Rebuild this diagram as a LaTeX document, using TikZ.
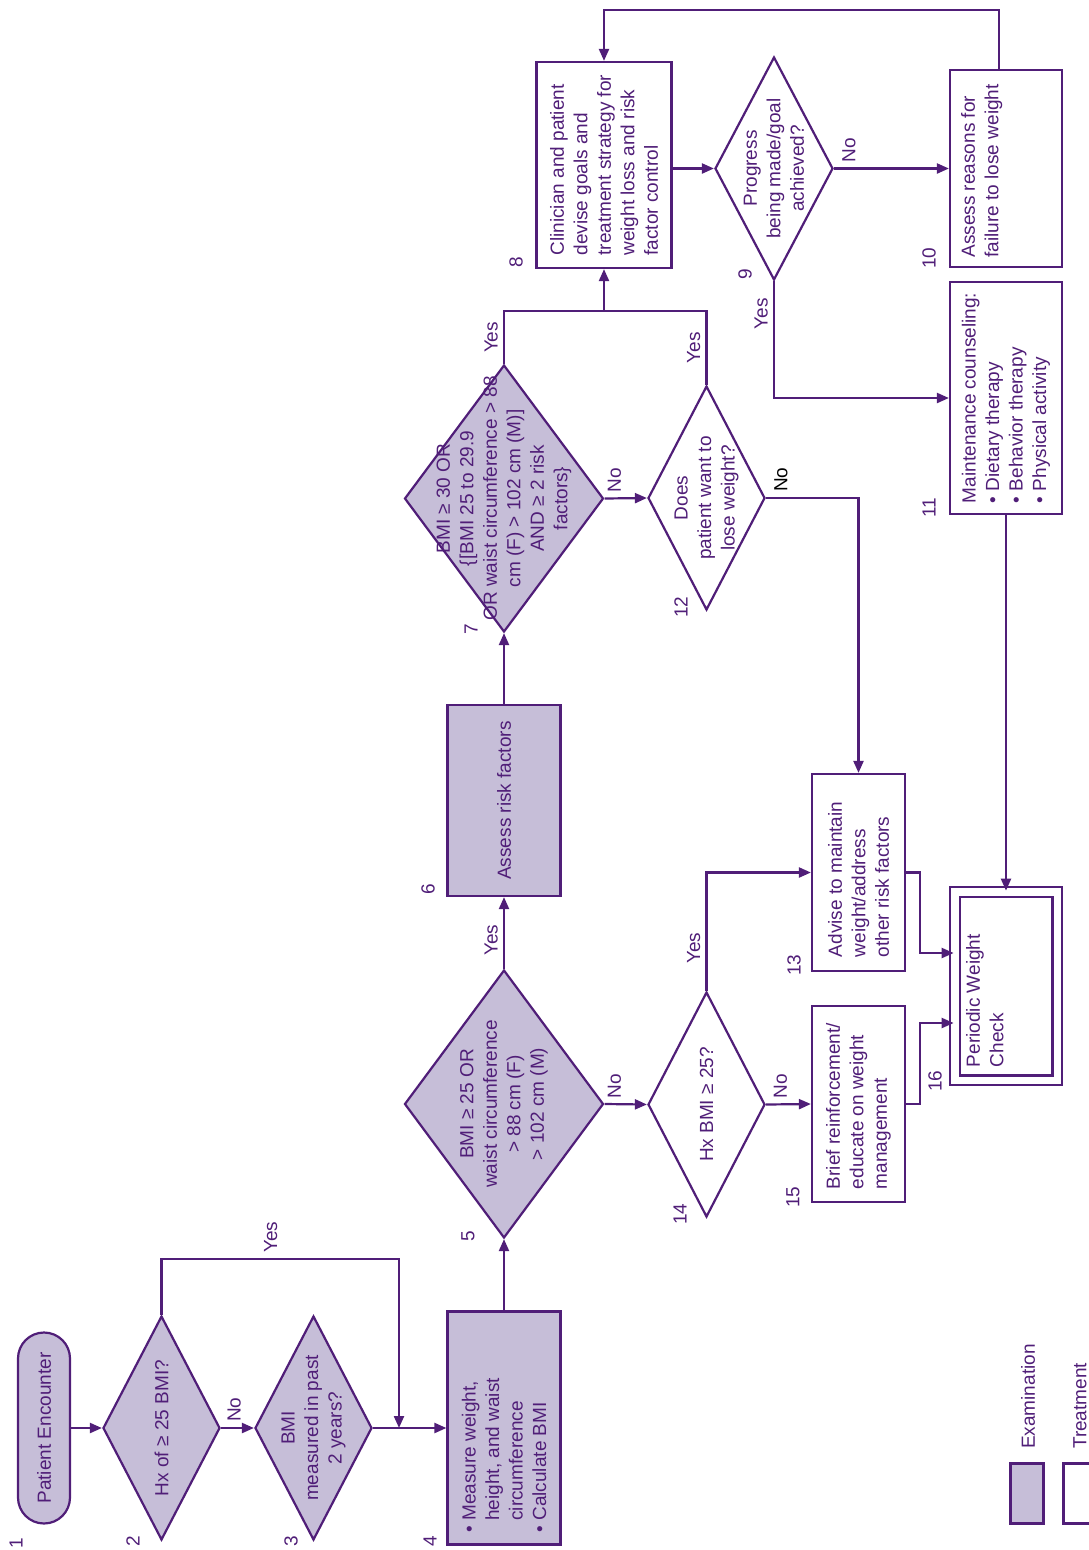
\documentclass[tikz,border=0pt]{standalone}
\usepackage{fontspec}
\setmainfont{Liberation Sans}
\usepackage{graphicx}
\usepackage{tikz}
\usetikzlibrary{shapes.geometric}
\usetikzlibrary{arrows.meta}
\definecolor{ink}{RGB}{80,30,120}
\definecolor{lav}{RGB}{198,190,216}

\begin{document}
\begin{tikzpicture}[
  x=1pt, y=-1pt,
  every node/.style={font=\fontsize{19}{23.5}\selectfont, text=ink},
  box/.style={rectangle, draw=ink, line width=2.2pt, inner sep=0pt, fill=white},
  exam/.style={box, fill=lav},
  dia/.style={diamond, draw=ink, line width=2.2pt, inner sep=0pt, fill=white},
  dtext/.style={rotate=90, align=center, inner sep=0pt},
  lab/.style={rotate=90, inner sep=5pt},
  num/.style={rotate=90, inner sep=0pt},
  arr/.style={draw=ink, line width=2.2pt, -{Triangle[length=12pt,width=10pt]}},
  line/.style={draw=ink, line width=2.2pt} % no tip
]
\useasboundingbox (0,0) rectangle (1088,1550);

% examination steps
\node[exam, rounded corners=26pt, minimum width=52pt, minimum height=191pt] (pe) at (44,1428) {\rotatebox{90}{Patient Encounter}};
\node[dia, fill=lav, minimum width=117pt, minimum height=224pt,
  label={[dtext]center:Hx of ≥ 25 BMI?}] (d2) at (161.5,1428) {};
\node[dia, fill=lav, minimum width=117pt, minimum height=224pt,
  label={[dtext]center:{BMI\\measured in past\\2 years?}}] (d3) at (313.5,1428) {};
\node[exam, minimum width=113pt, minimum height=233pt] (b4) at (504,1428) {\rotatebox{90}{\parbox{209pt}{\raggedright
  \textbullet\ Measure weight,\\\hphantom{\textbullet\ }height, and waist\\\hphantom{\textbullet\ }circumference\\\textbullet\ Calculate BMI}}};
\node[dia, fill=lav, minimum width=199pt, minimum height=268pt,
  label={[dtext]center:{BMI ≥ 25 OR\\waist circumference\\> 88 cm (F)\\> 102 cm (M)}}] (d5) at (504,1104) {};
\node[exam, minimum width=113pt, minimum height=191pt] (b6) at (504,800.5) {\rotatebox{90}{Assess risk factors}};
\node[dia, fill=lav, minimum width=199pt, minimum height=267pt,
  label={[dtext]center:{BMI ≥ 30 OR\\\{[BMI 25 to 29.9\\OR waist circumference > 88\\cm (F) > 102 cm (M)]\\AND ≥ 2 risk\\factors\}}}] (d7) at (504,498.5) {};

% treatment steps
\node[box, minimum width=135pt, minimum height=206pt] (b8) at (604,165) {\rotatebox{90}{\parbox{181pt}{\raggedright
  Clinician and patient\\devise goals and\\treatment strategy for\\weight loss and risk\\factor control}}};
\node[dia, minimum width=118pt, minimum height=223pt,
  label={[dtext]center:{Progress\\being made/goal\\achieved?}}] (d9) at (774,168.5) {};
\node[box, minimum width=112pt, minimum height=197pt] (b10) at (1006,168.5) {\rotatebox{90}{\parbox[c][90pt][t]{178pt}{\raggedright
  Assess reasons for\\failure to lose weight}}};
\node[box, minimum width=112pt, minimum height=232pt] (b11) at (1006,398) {\rotatebox{90}{\parbox{210pt}{\raggedright
  Maintenance counseling:\\\textbullet\ Dietary therapy\\\textbullet\ Behavior therapy\\\textbullet\ Physical activity}}};
\node[dia, minimum width=117pt, minimum height=224pt,
  label={[dtext]center:{Does\\patient want to\\lose weight?}}] (d12) at (706.5,498) {};
\node[box, minimum width=93pt, minimum height=197pt] (b13) at (858.5,872.5) {\rotatebox{90}{\parbox{169pt}{\raggedright
  Advise to maintain\\weight/address\\other risk factors}}};
\node[dia, minimum width=117pt, minimum height=225pt,
  label={[dtext]center:Hx BMI ≥ 25?}] (d14) at (706.5,1104.5) {};
\node[box, minimum width=93pt, minimum height=196pt] (b15) at (858.5,1104) {\rotatebox{90}{\parbox{170pt}{\raggedright
  Brief reinforcement/\\educate on weight\\management}}};
\node[box, double, double distance=7.5pt, minimum width=102.5pt, minimum height=188.5pt] (b16) at (1006,986) {\rotatebox{90}{\parbox[c][80pt][t]{162pt}{\raggedright
  Periodic Weight\\Check}}};

% step numbers
\node[num] (n1) at (16,1543) {1};
\node[num] (n2) at (133,1541) {2};
\node[num] (n3) at (291,1541) {3};
\node[num] (n4) at (430,1541) {4};
\node[num] (n5) at (468,1236) {5};
\node[num] (n6) at (428,889) {6};
\node[num] (n7) at (471,629) {7};
\node[num] (n8) at (516,262) {8};
\node[num] (n9) at (745,274) {9};
\node[num] (n10) at (929,258) {10};
\node[num] (n11) at (929,508) {11};
\node[num] (n12) at (681,607) {12};
\node[num] (n13) at (794,965) {13};
\node[num] (n14) at (680,1214) {14};
\node[num] (n15) at (793,1197) {15};
\node[num] (n16) at (935,1081) {16};

% legend
\node[exam, minimum width=33pt, minimum height=60pt] (lg1) at (1027,1493.5) {};
\node[box, minimum width=33pt, minimum height=60pt] (lg2) at (1080,1493.5) {};
\node[lab, inner sep=0pt, anchor=west] (lgt1) at (1028,1449) {Examination};
\node[lab, inner sep=0pt, anchor=west] (lgt2) at (1080,1449) {Treatment};

% connectors
\coordinate (j4) at (399,1428);
\coordinate (j7) at (604,311);
\draw[arr] (pe.east) -- (d2.west);
\draw[arr] (d2.east) -- node[lab, anchor=west, pos=0.4] {No} (d3.west);
\draw[arr] (d3.east) -- (b4.west);
\draw[arr] (d2.north) -- ++(0,-56) -| node[lab, anchor=west, pos=0.23] {Yes} (j4);
\draw[arr] (b4.north) -- (d5.south);
\draw[arr] (d5.north) -- node[lab, anchor=south, pos=0.4] {Yes} (b6.south);
\draw[arr] (b6.north) -- (d7.south);
\draw[arr] (d7.north) |- node[lab, anchor=south, pos=0.25] {Yes} (j7) -- (b8.south);
\draw[line] (d12.north) |- node[lab, anchor=south, pos=0.25] {Yes} (j7);
\draw[arr] (d7.east) -- node[lab, anchor=west, pos=0.23] {No} (d12.west);
\draw[arr] (d12.east) -| node[lab, anchor=west, pos=0.08, text=black] {No} (b13.north);
\draw[arr] (d9.west -| b8.east) -- (d9.west);
\draw[arr] (d9.east) -- node[lab, anchor=west, pos=0.13] {No} (b10.west);
\draw[arr] (d9.south) |- node[lab, anchor=south, pos=0.14] {Yes} (b11.west);
\draw[arr] ([xshift=-7pt]b10.north) -- ++(0,-59) -| (b8.north);
\draw[arr] (b11.south) -- (b16.north);
\draw[arr] (d5.east) -- node[lab, anchor=west, pos=0.23] {No} (d14.west);
\draw[arr] (d14.north) |- node[lab, anchor=south, pos=0.18] {Yes} (b13.west);
\draw[arr] (d14.east) -- node[lab, anchor=west, pos=0.32] {No} (b15.west);
\draw[arr] (b13.east) -- ++(14,0) |- ([yshift=33pt]b16.west);
\draw[arr] (b15.east) -- ++(14,0) |- ([yshift=-37pt]b16.west);
\end{tikzpicture}
\end{document}
